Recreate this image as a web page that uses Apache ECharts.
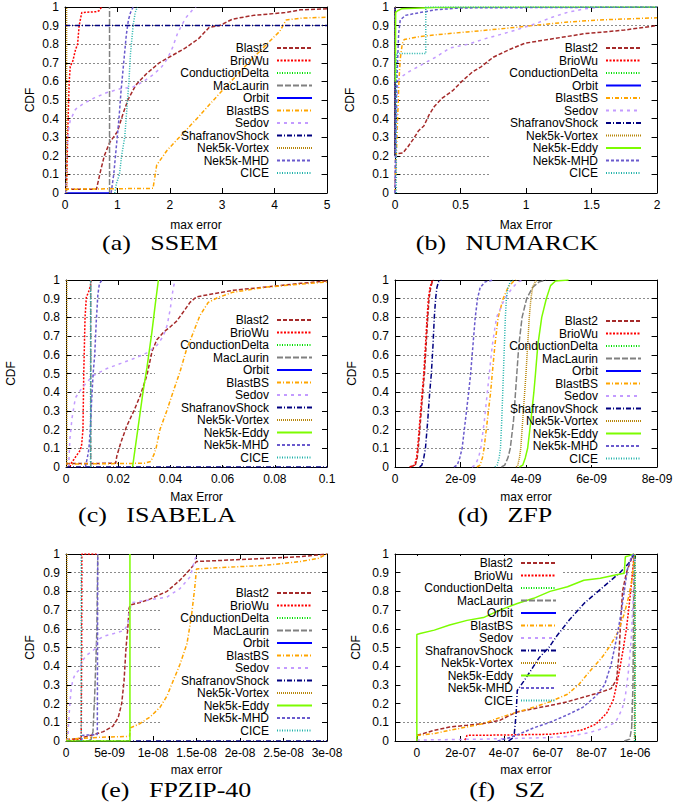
<!DOCTYPE html>
<html><head><meta charset="utf-8">
<script src="https://cdn.jsdelivr.net/npm/echarts@6/dist/echarts.min.js"></script>
<style>html,body{margin:0;padding:0;background:#fff}#c{width:673px;height:803px}</style>
</head><body><div id="c"></div>
<script>
// ---------------- DATA (x = max error, y = CDF) ----------------
// (a) SSEM
const ssemBlast2 = [[0,0.02],[0.6,0.02],[0.68,0.12],[0.75,0.2],[0.85,0.27],[1.0,0.33],[1.1,0.42],[1.2,0.5],[1.35,0.58],[1.55,0.64],[1.8,0.7],[2.05,0.74],[2.3,0.78],[2.55,0.83],[2.75,0.89],[2.95,0.9],[3.2,0.935],[3.6,0.955],[4.2,0.97],[4.5,0.985],[5,0.99]];
const ssemBrioWu = [[0,0.02],[0.03,0.02],[0.05,0.3],[0.08,0.6],[0.1,0.68],[0.15,0.71],[0.2,0.77],[0.24,0.8],[0.27,0.9],[0.32,0.97],[0.6,0.975],[0.65,0.98],[0.7,1.0]];
const ssemConductionDelta = [];
const ssemMacLaurin = [[0.85,0],[0.85,1]];
const ssemOrbit = [[0,0],[0.84,0]];
const ssemBlastBS = [[0,0.02],[1.68,0.025],[1.75,0.15],[1.95,0.23],[2.25,0.32],[2.55,0.41],[2.9,0.52],[3.2,0.61],[3.5,0.7],[3.85,0.8],[4.1,0.87],[4.22,0.93],[4.5,0.94],[5,0.945]];
const ssemSedov = [[0.02,0],[0.03,0.2],[0.06,0.33],[0.1,0.39],[0.2,0.45],[0.35,0.48],[0.55,0.51],[0.8,0.54],[1.05,0.56],[1.3,0.57],[1.5,0.6],[1.7,0.64],[1.85,0.68],[1.95,0.72],[2.05,0.78],[2.15,0.86],[2.3,0.94],[2.45,0.99],[2.5,1.0]];
const ssemShafranovShock = [[0,0.9],[5,0.9]];
const ssemVortex = [[0.03,0],[0.03,1]];
const ssemMHD = [[0.88,0],[0.93,0.1],[0.98,0.25],[1.03,0.4],[1.07,0.55],[1.12,0.7],[1.17,0.85],[1.21,0.93],[1.25,0.97],[1.3,1.0]];
const ssemCICE = [[0.95,0],[0.98,0.05],[1.04,0.1],[1.08,0.2],[1.14,0.3],[1.18,0.45],[1.22,0.6],[1.25,0.75],[1.3,0.9],[1.34,0.97],[1.38,1.0]];

// (b) NUMARCK
const numBlast2 = [[0,0],[0.005,0.21],[0.06,0.215],[0.1,0.25],[0.14,0.29],[0.18,0.335],[0.22,0.36],[0.26,0.42],[0.3,0.465],[0.36,0.51],[0.44,0.55],[0.51,0.6],[0.59,0.65],[0.66,0.68],[0.75,0.73],[0.87,0.77],[0.99,0.805],[1.12,0.82],[1.3,0.84],[1.45,0.857],[1.6,0.866],[1.75,0.876],[2,0.9]];
const numBrioWu = [[0,0.2],[0,1]];
const numConductionDelta = [[0,0.2],[0,1]];
const numOrbit = [[0,0.2],[0,1]];
const numBlastBS = [[0,0],[0.01,0.2],[0.02,0.4],[0.03,0.6],[0.04,0.72],[0.055,0.8],[0.07,0.825],[0.18,0.84],[0.3,0.85],[0.55,0.866],[0.8,0.882],[1.05,0.9],[1.3,0.918],[1.55,0.93],[2,0.942]];
const numSedov = [[0,0],[0.01,0.3],[0.02,0.6],[0.05,0.625],[0.1,0.65],[0.18,0.68],[0.23,0.7],[0.31,0.73],[0.42,0.78],[0.56,0.8],[0.69,0.83],[0.82,0.855],[0.94,0.88],[1.07,0.91],[1.2,0.945],[1.32,0.972],[1.45,0.99],[1.58,1.0],[2,1.0]];
const numShafranovShock = [[0,0.2],[0,1]];
const numVortex = [[0,0.2],[0,1]];
const numEddy = [[0.003,0.6],[0.005,0.97],[0.02,0.98],[0.05,0.99],[0.3,0.997],[2,1]];
const numMHD = [[0,0],[0.01,0.5],[0.015,0.62],[0.028,0.86],[0.04,0.93],[0.08,0.955],[0.15,0.965],[0.23,0.975],[0.31,0.985],[0.5,0.995],[2,1]];
const numCICE = [[0.01,0],[0.01,0.75],[0.235,0.75],[0.235,1.0],[2,1.0]];

// (c) ISABELA
const isaBlast2 = [[0,0.018],[0.019,0.02],[0.0195,0.06],[0.021,0.13],[0.0233,0.22],[0.026,0.3],[0.0284,0.38],[0.031,0.49],[0.033,0.62],[0.0348,0.68],[0.0373,0.72],[0.04,0.75],[0.0424,0.78],[0.045,0.83],[0.0475,0.88],[0.05,0.91],[0.054,0.92],[0.064,0.945],[0.077,0.963],[0.09,0.982],[0.1,0.995]];
const isaBrioWu = [[0.0015,0],[0.002,0.02],[0.003,0.04],[0.0042,0.065],[0.0055,0.09],[0.006,0.12],[0.0065,0.2],[0.0068,0.5],[0.0073,0.8],[0.0078,0.91],[0.0085,0.93],[0.0093,0.965],[0.0097,1.0]];
const isaConductionDelta = [];
const isaMacLaurin = [[0.0095,0],[0.0095,1]];
const isaOrbit = [];
const isaBlastBS = [[0,0.015],[0.03,0.02],[0.0325,0.03],[0.0338,0.07],[0.0345,0.1],[0.036,0.2],[0.0386,0.3],[0.041,0.4],[0.0437,0.51],[0.0462,0.63],[0.0488,0.72],[0.0513,0.81],[0.0545,0.88],[0.058,0.905],[0.064,0.935],[0.077,0.962],[0.09,0.978],[0.1,0.99]];
const isaSedov = [[0.001,0],[0.0015,0.15],[0.0023,0.26],[0.0036,0.37],[0.0055,0.41],[0.008,0.455],[0.0106,0.49],[0.0157,0.527],[0.021,0.554],[0.026,0.58],[0.031,0.61],[0.0348,0.65],[0.0373,0.7],[0.0388,0.76],[0.04,0.85],[0.041,0.95],[0.0418,1.0]];
const isaShafranovShock = [[0,0],[0.1,0]];
const isaVortex = [[0.0003,0],[0.0003,1]];
const isaEddy = [[0.0255,0],[0.026,0.05],[0.0275,0.2],[0.0295,0.4],[0.031,0.53],[0.0329,0.72],[0.0342,0.87],[0.0354,1.0]];
const isaMHD = [[0.0074,0],[0.0082,0.05],[0.0088,0.1],[0.0093,0.2],[0.0098,0.35],[0.0104,0.5],[0.011,0.6],[0.0116,0.78],[0.0122,0.92],[0.0128,0.98],[0.0138,1.0]];
const isaCICE = [[0.0094,0],[0.0094,1]];

// (d) ZFP
const zfpBlast2 = [[0.45e-9,0],[0.62e-9,0.01],[0.68e-9,0.05],[0.72e-9,0.12],[0.78e-9,0.25],[0.85e-9,0.4],[0.9e-9,0.5],[0.95e-9,0.65],[1.0e-9,0.8],[1.04e-9,0.9],[1.09e-9,0.96],[1.14e-9,0.99],[1.18e-9,1.0]];
const zfpBrioWu = [[0.45e-9,0],[0.6e-9,0.01],[0.66e-9,0.05],[0.7e-9,0.12],[0.76e-9,0.25],[0.83e-9,0.4],[0.88e-9,0.5],[0.93e-9,0.65],[0.98e-9,0.8],[1.02e-9,0.9],[1.07e-9,0.96],[1.12e-9,0.99],[1.16e-9,1.0]];
const zfpConductionDelta = [];
const zfpMacLaurin = [[3.25e-9,0],[3.35e-9,0.01],[3.45e-9,0.05],[3.52e-9,0.1],[3.62e-9,0.25],[3.68e-9,0.4],[3.72e-9,0.5],[3.78e-9,0.65],[3.88e-9,0.8],[4.02e-9,0.9],[4.2e-9,0.96],[4.4e-9,0.99],[4.6e-9,1.0]];
const zfpOrbit = [];
const zfpBlastBS = [[2.5e-9,0],[2.6e-9,0.01],[2.67e-9,0.05],[2.72e-9,0.1],[2.82e-9,0.25],[2.92e-9,0.4],[2.97e-9,0.5],[3.05e-9,0.65],[3.15e-9,0.8],[3.3e-9,0.9],[3.45e-9,0.96],[3.6e-9,0.99],[3.7e-9,1.0]];
const zfpSedov = [[2.35e-9,0],[2.45e-9,0.01],[2.55e-9,0.05],[2.62e-9,0.1],[2.73e-9,0.25],[2.82e-9,0.4],[2.88e-9,0.5],[2.97e-9,0.65],[3.1e-9,0.8],[3.35e-9,0.9],[3.55e-9,0.95],[3.75e-9,0.99],[3.95e-9,1.0]];
const zfpShafranovShock = [[0.75e-9,0],[0.82e-9,0.01],[0.88e-9,0.05],[0.93e-9,0.1],[1.0e-9,0.25],[1.06e-9,0.4],[1.11e-9,0.5],[1.16e-9,0.65],[1.2e-9,0.8],[1.24e-9,0.9],[1.28e-9,0.96],[1.33e-9,0.99],[1.42e-9,1.0]];
const zfpVortex = [[3.7e-9,0],[3.75e-9,0.01],[3.8e-9,0.05],[3.84e-9,0.1],[3.9e-9,0.25],[3.96e-9,0.4],[4.0e-9,0.5],[4.05e-9,0.65],[4.1e-9,0.8],[4.15e-9,0.9],[4.2e-9,0.96],[4.28e-9,0.99],[4.33e-9,1.0]];
const zfpEddy = [[3.8e-9,0],[3.9e-9,0.01],[3.98e-9,0.05],[4.05e-9,0.1],[4.15e-9,0.25],[4.24e-9,0.4],[4.29e-9,0.5],[4.36e-9,0.65],[4.48e-9,0.8],[4.62e-9,0.9],[4.75e-9,0.97],[4.9e-9,0.995],[5.3e-9,1.0]];
const zfpMHD = [[1.8e-9,0],[1.9e-9,0.01],[1.98e-9,0.05],[2.05e-9,0.1],[2.15e-9,0.25],[2.25e-9,0.4],[2.31e-9,0.5],[2.38e-9,0.65],[2.45e-9,0.8],[2.52e-9,0.9],[2.6e-9,0.96],[2.75e-9,0.99],[3.0e-9,1.0]];
const zfpCICE = [[3.05e-9,0],[3.12e-9,0.01],[3.18e-9,0.05],[3.22e-9,0.1],[3.26e-9,0.25],[3.29e-9,0.4],[3.31e-9,0.5],[3.34e-9,0.65],[3.37e-9,0.8],[3.4e-9,0.9],[3.45e-9,0.96],[3.52e-9,0.99],[3.6e-9,1.0]];

// (e) FPZIP-40
const fpBlast2 = [[0,0.005],[1.6e-9,0.015],[3.1e-9,0.033],[4.3e-9,0.05],[5.4e-9,0.08],[6.0e-9,0.125],[6.4e-9,0.2],[6.67e-9,0.32],[6.9e-9,0.5],[7.1e-9,0.6],[7.25e-9,0.71],[7.4e-9,0.728],[8.5e-9,0.74],[9.7e-9,0.76],[11.6e-9,0.8],[13.1e-9,0.86],[14.3e-9,0.92],[15.0e-9,0.96],[19e-9,0.968],[23e-9,0.977],[27e-9,0.986],[30e-9,1.0]];
const fpBrioWu = [[0,0],[1.0e-9,0.005],[1.75e-9,0.01],[1.8e-9,0.5],[1.82e-9,1.0],[3.5e-9,1.0]];
const fpConductionDelta = [];
const fpMacLaurin = [[2.6e-9,0],[2.9e-9,0.01],[3.1e-9,0.05],[3.3e-9,0.25],[3.45e-9,0.45],[3.55e-9,0.6],[3.6e-9,0.8],[3.65e-9,1.0]];
const fpOrbit = [];
const fpBlastBS = [[0,0.01],[4e-9,0.02],[7.3e-9,0.025],[7.4e-9,0.07],[8.5e-9,0.093],[9.7e-9,0.13],[10.8e-9,0.18],[11.6e-9,0.24],[12.3e-9,0.32],[13.1e-9,0.41],[13.9e-9,0.52],[14.4e-9,0.66],[14.8e-9,0.82],[15.0e-9,0.92],[19e-9,0.93],[23e-9,0.94],[27e-9,0.96],[29e-9,0.977],[30e-9,1.0]];
const fpSedov = [[0.2e-9,0],[0.3e-9,0.1],[0.45e-9,0.2],[0.6e-9,0.28],[0.8e-9,0.33],[1.1e-9,0.36],[1.5e-9,0.38],[1.9e-9,0.43],[2.4e-9,0.46],[3.0e-9,0.48],[3.5e-9,0.5],[3.65e-9,0.54],[4.3e-9,0.56],[5.5e-9,0.575],[6.6e-9,0.59],[7.1e-9,0.62],[7.3e-9,0.7],[7.6e-9,0.74],[9.7e-9,0.755],[11.6e-9,0.77],[13.1e-9,0.815],[14.3e-9,0.88],[14.8e-9,0.97],[15.0e-9,0.99],[15.2e-9,1.0]];
const fpShafranovShock = [[0,0],[30e-9,0]];
const fpVortex = [[0.1e-9,0],[0.1e-9,1]];
const fpEddy = [[0,0],[7.35e-9,0],[7.35e-9,1]];
const fpMHD = [[1.8e-9,0],[1.85e-9,0.03],[3.6e-9,0.035],[3.65e-9,1.0]];
const fpCICE = [[1.75e-9,0],[1.75e-9,1]];

// (f) SZ
const szBlast2 = [[0,0],[0,0.03],[0.8e-7,0.057],[1.5e-7,0.075],[2.3e-7,0.084],[3.05e-7,0.093],[3.8e-7,0.11],[4.3e-7,0.14],[4.6e-7,0.155],[5.35e-7,0.173],[6.1e-7,0.19],[6.9e-7,0.21],[7.65e-7,0.235],[8.4e-7,0.26],[8.9e-7,0.28],[9.15e-7,0.33],[9.25e-7,0.45],[9.32e-7,0.6],[9.42e-7,0.8],[9.6e-7,0.9],[9.75e-7,0.95],[9.92e-7,1.0]];
const szBrioWu = [[2.2e-7,0.005],[2.3e-7,0.03],[4e-7,0.032],[6.1e-7,0.036],[6.9e-7,0.045],[7.6e-7,0.06],[8.2e-7,0.09],[8.7e-7,0.15],[9.0e-7,0.22],[9.15e-7,0.3],[9.3e-7,0.39],[9.45e-7,0.49],[9.6e-7,0.6],[9.72e-7,0.72],[9.82e-7,0.83],[9.9e-7,0.93],[9.95e-7,1.0]];
const szConductionDelta = [[1.0e-6,0],[1.0e-6,1]];
const szMacLaurin = [[9.5e-7,0],[9.75e-7,0.01],[9.84e-7,0.07],[9.9e-7,0.3],[9.94e-7,0.9],[9.95e-7,1.0]];
const szOrbit = [];
const szBlastBS = [[0,0.03],[0.8e-7,0.04],[1.5e-7,0.057],[2.3e-7,0.075],[3.05e-7,0.093],[3.8e-7,0.125],[4.6e-7,0.155],[5.35e-7,0.18],[6.1e-7,0.21],[6.9e-7,0.25],[7.4e-7,0.3],[7.9e-7,0.37],[8.5e-7,0.45],[8.8e-7,0.5],[9.2e-7,0.58],[9.5e-7,0.68],[9.7e-7,0.77],[9.85e-7,0.86],[9.93e-7,0.95],[9.98e-7,1.0]];
const szSedov = [[0,0.005],[3e-7,0.01],[6e-7,0.018],[7.0e-7,0.025],[7.9e-7,0.045],[8.6e-7,0.07],[9.1e-7,0.1],[9.4e-7,0.17],[9.55e-7,0.24],[9.7e-7,0.38],[9.82e-7,0.55],[9.9e-7,0.73],[9.96e-7,0.9],[1.0e-6,1.0]];
const szShafranovShock = [[4.2e-7,0],[4.45e-7,0.02],[4.55e-7,0.15],[4.6e-7,0.27],[4.9e-7,0.32],[5.35e-7,0.4],[5.6e-7,0.445],[6.05e-7,0.5],[6.4e-7,0.56],[7.0e-7,0.65],[7.7e-7,0.74],[8.5e-7,0.82],[9.3e-7,0.9],[9.7e-7,0.95],[9.95e-7,1.0]];
const szVortex = [[9.97e-7,0],[9.97e-7,1]];
const szEddy = [[0,0],[0,0.57],[0.15e-7,0.575],[0.8e-7,0.593],[1.5e-7,0.62],[2.3e-7,0.645],[3.05e-7,0.66],[3.8e-7,0.7],[4.6e-7,0.735],[5.35e-7,0.763],[6.1e-7,0.8],[6.9e-7,0.825],[7.65e-7,0.86],[8.4e-7,0.87],[9.2e-7,0.89],[9.5e-7,0.897],[9.55e-7,0.985],[9.7e-7,0.99],[9.95e-7,1.0]];
const szMHD = [[3.7e-7,0],[4.3e-7,0.02],[4.75e-7,0.04],[5.35e-7,0.07],[6.1e-7,0.1],[6.9e-7,0.14],[7.6e-7,0.18],[8.2e-7,0.24],[8.6e-7,0.3],[8.9e-7,0.41],[9.15e-7,0.55],[9.35e-7,0.68],[9.5e-7,0.8],[9.65e-7,0.92],[9.85e-7,0.99],[9.95e-7,1.0]];
const szCICE = [[9.98e-7,0],[9.98e-7,1]];

const szTicks = [0, 2e-7, 4e-7, 6e-7, 8e-7, 1e-6];

// ---------------- STYLES ----------------
const SANS = 'Liberation Sans, Arial, Helvetica, sans-serif';
const SERIF = 'Liberation Serif, Times New Roman, serif';
const STYLE = {
  'Blast2': {color:'#a52a2a', type:[4,2]},
  'BrioWu': {color:'#ff0000', type:[2,1.5]},
  'ConductionDelta': {color:'#00e000', type:[1,1.5]},
  'MacLaurin': {color:'#808080', type:[6,2]},
  'Orbit': {color:'#0000ff', type:'solid'},
  'BlastBS': {color:'#ffa500', type:[4,2,1,2]},
  'Sedov': {color:'#c39bff', type:[3,4]},
  'ShafranovShock': {color:'#000080', type:[5,2,1,2]},
  'Nek5k-Vortex': {color:'#b8860b', type:[1,1]},
  'Nek5k-Eddy': {color:'#7cfc00', type:'solid'},
  'Nek5k-MHD': {color:'#6a5acd', type:[3,2]},
  'CICE': {color:'#20b2aa', type:[1,1.5]}
};

function gpExp(v){
  if (Math.abs(v) < 1e-15) return '0';
  const e = Math.floor(Math.log10(Math.abs(v)) + 1e-9);
  const m = +(v / Math.pow(10, e)).toFixed(2);
  return m + 'e' + (e < 0 ? '-' : '+') + String(Math.abs(e)).padStart(2, '0');
}

const SP = '\u00a0\u00a0\u00a0';
const PANELS = [
  {left:65, top:7, width:262, height:186, x:{min:0,max:5,interval:1}, fmt:null,
   xName:'max error', xNameGap:26, yNameGap:29, legendRight:360, legendTop:42,
   box:[160,41,161,139], cap:['(a)'+SP+'SSEM',160,243],
   series:[['Blast2',ssemBlast2],['BrioWu',ssemBrioWu],['ConductionDelta',ssemConductionDelta],['MacLaurin',ssemMacLaurin],['Orbit',ssemOrbit],['BlastBS',ssemBlastBS],['Sedov',ssemSedov],['ShafranovShock',ssemShafranovShock],['Nek5k-Vortex',ssemVortex],['Nek5k-MHD',ssemMHD],['CICE',ssemCICE]]},
  {left:395, top:7, width:262, height:186, x:{min:0,max:2,interval:0.5}, fmt:null,
   xName:'Max Error', xNameGap:26, yNameGap:39, legendRight:31, legendTop:42,
   box:[490,41,161,139], cap:['(b)'+SP+'NUMARCK',507,243],
   series:[['Blast2',numBlast2],['BrioWu',numBrioWu],['ConductionDelta',numConductionDelta],['Orbit',numOrbit],['BlastBS',numBlastBS],['Sedov',numSedov],['ShafranovShock',numShafranovShock],['Nek5k-Vortex',numVortex],['Nek5k-Eddy',numEddy],['Nek5k-MHD',numMHD],['CICE',numCICE]]},
  {left:66, top:280, width:261, height:187, x:{min:0,max:0.1,interval:0.02}, fmt:null,
   xName:'Max Error', xNameGap:24, yNameGap:49, legendRight:360, legendTop:314,
   box:[155,313,166,152], cap:['(c)'+SP+'ISABELA',157,515],
   series:[['Blast2',isaBlast2],['BrioWu',isaBrioWu],['ConductionDelta',isaConductionDelta],['MacLaurin',isaMacLaurin],['Orbit',isaOrbit],['BlastBS',isaBlastBS],['Sedov',isaSedov],['ShafranovShock',isaShafranovShock],['Nek5k-Vortex',isaVortex],['Nek5k-Eddy',isaEddy],['Nek5k-MHD',isaMHD],['CICE',isaCICE]]},
  {left:395, top:280, width:262, height:187, x:{min:0,max:8e-9,interval:2e-9}, fmt:gpExp,
   xName:'max error', xNameGap:24, yNameGap:37, legendRight:31, legendTop:315,
   box:[490,313,161,152], cap:['(d)'+SP+'ZFP',505,515],
   series:[['Blast2',zfpBlast2],['BrioWu',zfpBrioWu],['ConductionDelta',zfpConductionDelta],['MacLaurin',zfpMacLaurin],['Orbit',zfpOrbit],['BlastBS',zfpBlastBS],['Sedov',zfpSedov],['ShafranovShock',zfpShafranovShock],['Nek5k-Vortex',zfpVortex],['Nek5k-Eddy',zfpEddy],['Nek5k-MHD',zfpMHD],['CICE',zfpCICE]]},
  {left:66, top:554, width:261, height:187, x:{min:0,max:3e-8,interval:5e-9}, fmt:gpExp,
   xName:'max error', xNameGap:23, yNameGap:30, legendRight:360, legendTop:587,
   box:[160,587,161,151], cap:['(e)'+SP+'FPZIP-40',176,790],
   series:[['Blast2',fpBlast2],['BrioWu',fpBrioWu],['ConductionDelta',fpConductionDelta],['MacLaurin',fpMacLaurin],['Orbit',fpOrbit],['BlastBS',fpBlastBS],['Sedov',fpSedov],['ShafranovShock',fpShafranovShock],['Nek5k-Vortex',fpVortex],['Nek5k-Eddy',fpEddy],['Nek5k-MHD',fpMHD],['CICE',fpCICE]]},
  {left:395, top:554, width:262, height:187, x:{min:-1e-7,max:1.1e-6,custom:szTicks}, fmt:gpExp,
   xName:'max error', xNameGap:23, yNameGap:33, legendRight:116, legendTop:557,
   box:[401,556,162,152], cap:['(f)'+SP+'SZ',507,790],
   series:[['Blast2',szBlast2],['BrioWu',szBrioWu],['ConductionDelta',szConductionDelta],['MacLaurin',szMacLaurin],['Orbit',szOrbit],['BlastBS',szBlastBS],['Sedov',szSedov],['ShafranovShock',szShafranovShock],['Nek5k-Vortex',szVortex],['Nek5k-Eddy',szEddy],['Nek5k-MHD',szMHD],['CICE',szCICE]]}
];

// ---------------- BUILD ----------------
const grids=[], xAxes=[], yAxes=[], series=[], legends=[], gfx=[];
const black = {color:'#000', width:1};
PANELS.forEach((p,i)=>{
  grids.push({left:p.left, top:p.top, width:p.width, height:p.height, containLabel:false, outerBoundsMode:'none'});
  const xBase = {gridIndex:i, type:'value', min:p.x.min, max:p.x.max};
  if (p.x.interval) xBase.interval = p.x.interval;
  const tick = {show:true, inside:true, length:5, lineStyle:black};
  if (p.x.custom) tick.customValues = p.x.custom;
  const lab = {show:true, color:'#000', fontSize:12, fontFamily:SANS, margin:6};
  if (p.fmt) lab.formatter = p.fmt;
  if (p.x.custom) lab.customValues = p.x.custom;
  xAxes.push(Object.assign({}, xBase, {position:'bottom', name:p.xName, nameLocation:'middle', nameGap:p.xNameGap,
    nameTextStyle:{color:'#000', fontSize:12, fontFamily:SANS},
    axisLine:{show:true, onZero:false, lineStyle:black}, axisTick:tick, axisLabel:lab, splitLine:{show:false}}));
  xAxes.push(Object.assign({}, xBase, {position:'top',
    axisLine:{show:true, onZero:false, lineStyle:black}, axisTick:Object.assign({}, tick), axisLabel:{show:false}, splitLine:{show:false}}));
  const yBase = {gridIndex:i, type:'value', min:0, max:1, interval:0.1};
  yAxes.push(Object.assign({}, yBase, {position:'left', name:'CDF', nameLocation:'middle', nameGap:p.yNameGap,
    nameTextStyle:{color:'#000', fontSize:12, fontFamily:SANS},
    axisLine:{show:true, onZero:false, lineStyle:black}, axisTick:{show:true, inside:true, length:5, lineStyle:black},
    axisLabel:{color:'#000', fontSize:12, fontFamily:SANS, margin:6}, splitLine:{show:false}}));
  yAxes.push(Object.assign({}, yBase, {position:'right',
    axisLine:{show:true, onZero:false, lineStyle:black}, axisTick:{show:true, inside:true, length:5, lineStyle:black},
    axisLabel:{show:false},
    splitLine:{show:true, showMinLine:false, showMaxLine:false, lineStyle:{color:'#8c8c8c', width:1, type:[2,2]}}}));
  p.series.forEach(([name,data])=>{
    const st = STYLE[name];
    series.push({type:'line', name, data, xAxisIndex:2*i, yAxisIndex:2*i,
      symbol:'none', showSymbol:false, animation:false, silent:true, clip:true,
      lineStyle:{color:st.color, width:1.5, type:st.type}, itemStyle:{color:st.color},
      emphasis:{disabled:true}});
  });
  legends.push({orient:'vertical', right:p.legendRight, top:p.legendTop, align:'right',
    itemWidth:35, itemHeight:12, itemGap:0.5, padding:0, selectedMode:false,
    itemStyle:{opacity:0, borderWidth:0},
    textStyle:{color:'#000', fontSize:12, fontFamily:SANS, lineHeight:12, padding:[0,3,0,0]},
    data:p.series.map(s=>s[0])});
  gfx.push({type:'rect', z:1, silent:true, shape:{x:p.box[0], y:p.box[1], width:p.box[2], height:p.box[3]}, style:{fill:'#fff'}});
  gfx.push({type:'text', z:5, silent:true, x:p.cap[1], y:p.cap[2], scaleX:1.18, scaleY:1,
    style:{text:p.cap[0], fontSize:22, fontFamily:SERIF, fill:'#000', align:'center', verticalAlign:'middle'}});
});

const chart = echarts.init(document.getElementById('c'), null, {renderer:'svg'});
chart.setOption({
  animation:false,
  backgroundColor:'#fff',
  grid:grids, xAxis:xAxes, yAxis:yAxes, series, legend:legends,
  graphic:{elements:gfx}
});
</script></body></html>
